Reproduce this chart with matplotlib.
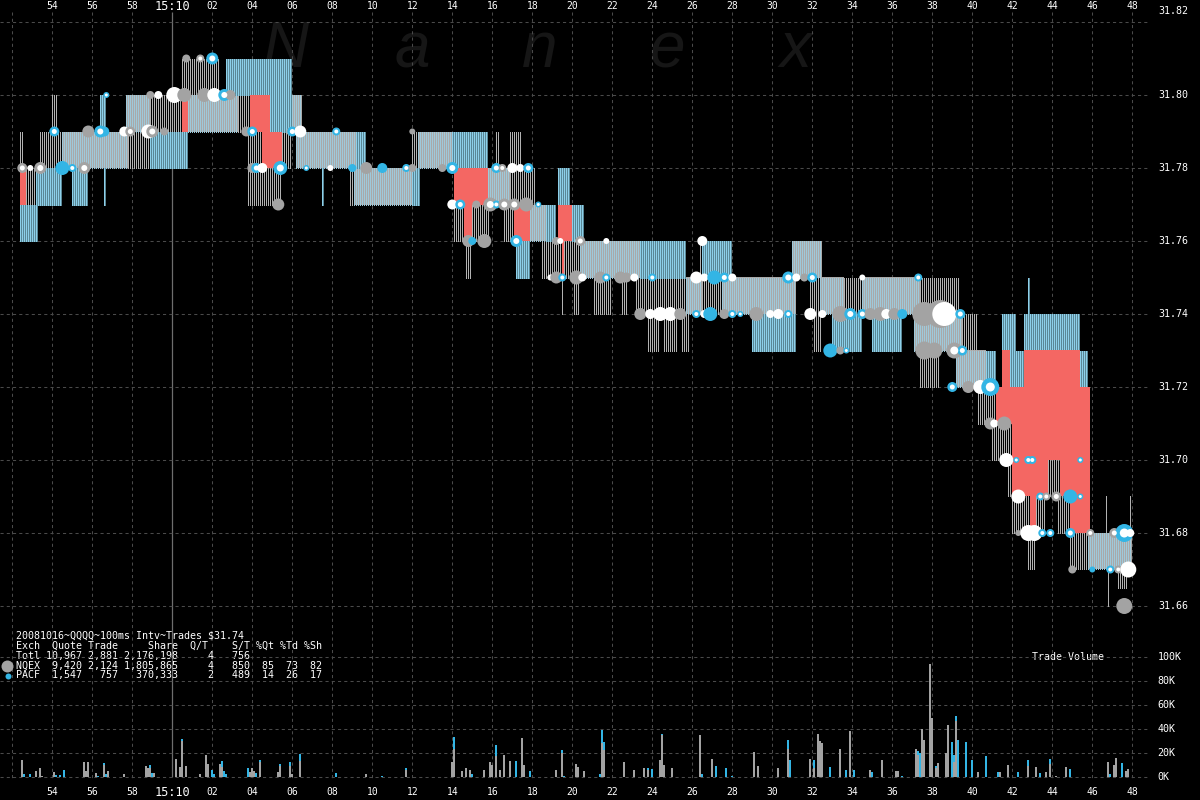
"""Nanex-style 100ms quote/trade chart for QQQQ, 2008-10-16 15:09:51 - 15:10:48."""
import matplotlib
matplotlib.use("Agg")
import matplotlib.pyplot as plt
import numpy as np

W, H, DPI = 1200, 800, 100
X0_PX, PX_PER_S = 172.3, 20.0          # 15:10:00 at x=172.3 px, 20 px per second
P_REF, P_REF_PX, PX_PER_P = 31.80, 95.0, 3650.0
VOL_ZERO_PX, PX_PER_K = 776.7, 1.194
STEP = 0.1                              # 100 ms interval

GRID = "#4a4a4a"
GRAY = "#a3a3a3"
BLUE = "#33b5e5"
LINE_GRAY = "#b2b2b2"
LINE_BLUE = "#8dd0ea"
LINE_BLUE_DIM = "#5a8796"
DENSE_BASE = "#a9a9a9"
DENSE_STRIPE = "#9fc9da"
RED = "#f46763"
MONO = "DejaVu Sans Mono"

# ---- time axis (seconds from 15:10:00) ------------------------------------
grid_times = [-8, -6, -4, -2, 0, 2, 4, 6, 8, 10, 12, 14, 16, 18, 20, 22, 24,
              26, 28, 30, 32, 34, 36, 38, 40, 42, 44, 46, 48]
label_times = grid_times[1:]
time_labels = ["54", "56", "58", "15:10", "02", "04", "06", "08", "10", "12",
               "14", "16", "18", "20", "22", "24", "26", "28", "30", "32",
               "34", "36", "38", "40", "42", "44", "46", "48"]

price_ticks = [31.66, 31.68, 31.70, 31.72, 31.74, 31.76, 31.78, 31.80, 31.82]
price_labels = ["31.66", "31.68", "31.70", "31.72", "31.74", "31.76", "31.78",
                "31.80", "31.82"]
vol_ticks = [0, 20, 40, 60, 80, 100]
vol_labels = ["0K", "20K", "40K", "60K", "80K", "100K"]

# ---- bid/ask ranges per 100ms interval: (t0, t1, low, high) -----------------
dense_blocks = [
    (-5.5, -2.2, 31.78, 31.79), (-2.3, -1.1, 31.79, 31.80), (0.8, 3.3, 31.79, 31.80),
    (5.9, 6.5, 31.79, 31.80), (6.2, 9.2, 31.78, 31.79), (9.1, 12.0, 31.77, 31.78),
    (12.3, 14.0, 31.78, 31.79), (15.8, 16.9, 31.77, 31.78), (17.9, 18.7, 31.76, 31.77),
    (20.4, 23.4, 31.75, 31.76), (25.7, 26.5, 31.74, 31.75), (27.5, 31.2, 31.74, 31.75),
    (31.0, 32.5, 31.75, 31.76), (32.4, 33.6, 31.74, 31.75), (34.5, 37.4, 31.74, 31.75),
    (37.1, 39.5, 31.73, 31.74), (39.2, 40.7, 31.72, 31.73), (45.8, 48.0, 31.67, 31.68),
]

gray_lines = [
    (-7.6, -7.4, 31.78, 31.79), (-7.3, -6.8, 31.77, 31.78), (-6.6, -5.5, 31.78, 31.79),
    (-6.0, -5.7, 31.79, 31.80), (-2.2, -1.1, 31.78, 31.79), (-1.1, 0.5, 31.79, 31.80),
    (0.5, 2.4, 31.80, 31.81), (3.3, 3.9, 31.79, 31.80), (3.8, 4.5, 31.77, 31.79),
    (4.5, 5.5, 31.77, 31.78), (5.5, 6.0, 31.78, 31.79), (8.9, 9.1, 31.77, 31.78),
    (12.0, 12.3, 31.78, 31.79), (14.1, 14.6, 31.76, 31.77), (15.0, 15.9, 31.76, 31.77),
    (14.7, 15.0, 31.75, 31.76), (16.2, 16.4, 31.78, 31.79), (16.9, 17.5, 31.78, 31.79),
    (16.9, 18.2, 31.77, 31.78), (16.6, 17.1, 31.76, 31.77), (18.5, 19.5, 31.75, 31.76),
    (19.5, 19.6, 31.74, 31.75), (19.6, 20.4, 31.75, 31.76), (20.0, 20.4, 31.76, 31.77),
    (20.1, 20.4, 31.74, 31.75), (21.1, 22.0, 31.74, 31.75), (22.5, 22.8, 31.74, 31.75),
    (23.2, 25.7, 31.74, 31.75), (23.8, 24.4, 31.73, 31.74), (24.6, 25.3, 31.73, 31.74),
    (25.5, 25.9, 31.73, 31.74), (26.4, 26.5, 31.75, 31.76), (26.5, 27.5, 31.74, 31.75),
    (31.9, 32.5, 31.74, 31.75), (32.1, 32.5, 31.73, 31.74), (33.6, 34.5, 31.74, 31.75),
    (37.4, 39.4, 31.74, 31.75), (37.4, 38.4, 31.72, 31.73), (39.5, 40.3, 31.73, 31.74),
    (40.3, 41.2, 31.71, 31.72), (40.3, 40.4, 31.71, 31.73), (41.0, 42.0, 31.70, 31.71),
    (41.8, 42.0, 31.69, 31.70), (43.8, 44.4, 31.69, 31.70), (42.0, 42.9, 31.68, 31.69),
    (43.2, 43.7, 31.68, 31.69), (44.3, 44.9, 31.68, 31.69), (42.8, 43.2, 31.67, 31.68),
    (44.9, 45.8, 31.67, 31.68), (46.7, 46.8, 31.68, 31.69), (47.9, 48.0, 31.67, 31.69),
    (46.8, 46.9, 31.66, 31.67), (47.3, 47.8, 31.665, 31.67),
]

blue_lines = [
    (-7.6, -6.7, 31.76, 31.77), (-6.8, -5.5, 31.77, 31.78), (-5.0, -4.2, 31.77, 31.78),
    (-3.6, -3.3, 31.79, 31.80), (-3.4, -3.3, 31.77, 31.78), (-1.1, 0.8, 31.78, 31.79),
    (2.7, 6.0, 31.80, 31.81), (4.9, 6.0, 31.79, 31.80), (7.5, 7.6, 31.77, 31.78),
    (9.2, 9.7, 31.78, 31.79), (12.0, 12.4, 31.77, 31.78), (14.0, 15.8, 31.78, 31.79),
    (17.2, 17.9, 31.75, 31.76), (18.7, 19.2, 31.76, 31.77), (19.3, 19.9, 31.77, 31.78),
    (20.0, 20.6, 31.76, 31.77), (23.4, 25.7, 31.75, 31.76), (26.5, 28.0, 31.75, 31.76),
    (29.0, 31.2, 31.73, 31.74), (33.0, 34.5, 31.73, 31.74), (35.0, 36.5, 31.73, 31.74),
    (40.7, 41.2, 31.72, 31.73), (41.5, 42.2, 31.73, 31.74), (42.6, 45.4, 31.73, 31.74),
    (42.8, 42.9, 31.74, 31.75), (41.9, 42.6, 31.72, 31.73), (45.4, 45.8, 31.72, 31.73),
]

# crossed / locked market intervals
red_blocks = [
    (-7.6, -7.3, 31.77, 31.78), (0.5, 0.8, 31.79, 31.80), (3.9, 4.9, 31.79, 31.80),
    (4.5, 5.5, 31.78, 31.79), (14.1, 15.8, 31.77, 31.78), (14.6, 15.0, 31.76, 31.77),
    (17.1, 17.9, 31.76, 31.77), (19.3, 20.0, 31.76, 31.77), (19.5, 19.6, 31.75, 31.76),
    (41.5, 41.9, 31.72, 31.73), (42.6, 45.4, 31.72, 31.73), (41.2, 45.9, 31.71, 31.72),
    (42.0, 45.9, 31.70, 31.71), (42.0, 43.8, 31.69, 31.70), (44.4, 45.9, 31.69, 31.70),
    (42.9, 43.2, 31.68, 31.69), (44.9, 45.9, 31.68, 31.69),
]

# ---- trades: (t, price, kind, radius px); g=NQEX, b=PACF, w=white, *w=white core
trades = [
    (-7.5, 31.78, "gw", 5), (-7.1, 31.78, "w", 3), (-6.6, 31.78, "gw", 6), (-5.5, 31.78, "b", 7),
    (-5.0, 31.78, "bw", 4), (-4.4, 31.78, "gw", 6), (-5.9, 31.79, "bw", 5), (-4.2, 31.79, "g", 6),
    (-3.6, 31.79, "bw", 6), (-3.4, 31.79, "b", 5), (-2.4, 31.79, "w", 5), (-2.1, 31.79, "gw", 5),
    (-1.2, 31.79, "w", 7), (-1.0, 31.79, "gw", 6), (-0.4, 31.79, "g", 4), (-3.3, 31.80, "bw", 3),
    (-1.1, 31.80, "g", 4), (-0.7, 31.80, "w", 4), (0.1, 31.80, "w", 8), (0.6, 31.80, "g", 7),
    (1.6, 31.80, "g", 7), (2.1, 31.80, "w", 7), (2.6, 31.80, "bw", 6), (2.9, 31.80, "g", 5),
    (0.7, 31.81, "g", 4), (1.4, 31.81, "gw", 4), (2.0, 31.81, "bw", 6), (3.7, 31.79, "g", 5),
    (4.0, 31.79, "bw", 5), (4.0, 31.78, "g", 5), (4.2, 31.78, "bw", 5), (4.5, 31.78, "w", 5),
    (5.4, 31.78, "bw", 7), (5.3, 31.77, "g", 6), (5.9, 31.79, "g", 4), (6.0, 31.79, "bw", 5),
    (6.4, 31.79, "w", 6), (8.2, 31.79, "bw", 4), (6.7, 31.78, "bw", 3), (7.9, 31.78, "w", 3),
    (9.0, 31.78, "b", 4), (9.7, 31.78, "g", 6), (10.5, 31.78, "b", 5), (11.7, 31.78, "bw", 4),
    (12.0, 31.78, "g", 4), (12.0, 31.79, "g", 3), (13.5, 31.78, "g", 4), (14.0, 31.78, "bw", 6),
    (14.0, 31.77, "w", 5), (14.4, 31.77, "bw", 5), (15.2, 31.77, "g", 4), (15.9, 31.77, "gw", 7),
    (16.2, 31.77, "bw", 4), (16.6, 31.77, "gw", 6), (17.1, 31.77, "gw", 6), (17.7, 31.77, "g", 7),
    (18.3, 31.77, "bw", 3), (16.2, 31.78, "bw", 5), (16.5, 31.78, "gw", 4), (17.0, 31.78, "w", 5),
    (17.4, 31.78, "w", 4), (17.8, 31.78, "bw", 5), (14.8, 31.76, "g", 6), (15.0, 31.76, "b", 4),
    (15.6, 31.76, "g", 7), (17.2, 31.76, "bw", 6), (19.2, 31.76, "g", 4), (19.4, 31.76, "w", 3),
    (20.3, 31.76, "w", 3), (18.9, 31.75, "w", 3), (19.2, 31.75, "g", 6), (19.5, 31.75, "bw", 4),
    (20.2, 31.75, "g", 7), (20.5, 31.75, "w", 4), (20.4, 31.76, "gw", 5), (21.7, 31.76, "w", 3),
    (26.5, 31.76, "w", 5), (21.4, 31.75, "g", 6), (21.7, 31.75, "bw", 4), (22.4, 31.75, "g", 6),
    (22.7, 31.75, "g", 5), (23.1, 31.75, "w", 4), (24.0, 31.75, "bw", 4), (26.2, 31.75, "w", 6),
    (26.6, 31.75, "w", 4), (27.1, 31.75, "b", 7), (27.6, 31.75, "bw", 5), (28.0, 31.75, "w", 4),
    (30.8, 31.75, "bw", 6), (31.2, 31.75, "w", 4), (31.6, 31.75, "g", 4), (32.0, 31.75, "bw", 5),
    (23.4, 31.74, "g", 6), (23.9, 31.74, "w", 5), (24.4, 31.74, "w", 7), (24.9, 31.74, "w", 7),
    (25.4, 31.74, "g", 6), (26.2, 31.74, "bw", 4), (26.6, 31.74, "w", 4), (26.9, 31.74, "b", 7),
    (27.6, 31.74, "g", 5), (28.0, 31.74, "bw", 4), (28.4, 31.74, "bw", 3), (29.2, 31.74, "g", 7),
    (29.9, 31.74, "w", 4), (30.3, 31.74, "w", 5), (30.8, 31.74, "bw", 4), (31.9, 31.74, "w", 6),
    (32.5, 31.74, "w", 4), (33.4, 31.74, "g", 8), (33.9, 31.74, "bw", 6), (34.5, 31.74, "bw", 5),
    (34.9, 31.74, "g", 6), (35.4, 31.74, "g", 7), (35.7, 31.74, "w", 5), (36.1, 31.74, "g", 6),
    (36.5, 31.74, "b", 5), (37.6, 31.74, "g", 12), (38.4, 31.74, "g", 14), (38.6, 31.74, "w", 12),
    (39.4, 31.74, "bw", 5), (32.9, 31.73, "b", 7), (33.4, 31.73, "g", 4), (33.7, 31.73, "bw", 3),
    (34.5, 31.75, "w", 3), (37.3, 31.75, "bw", 4), (37.6, 31.73, "g", 9), (38.1, 31.73, "g", 8),
    (39.1, 31.73, "gw", 8), (39.5, 31.73, "bw", 5), (39.0, 31.72, "bw", 5), (39.8, 31.72, "g", 6),
    (40.4, 31.72, "w", 7), (40.9, 31.72, "bw", 9), (40.9, 31.71, "g", 6), (41.1, 31.71, "w", 4),
    (41.6, 31.71, "g", 7), (41.7, 31.70, "w", 7), (42.2, 31.70, "bw", 3), (42.8, 31.70, "bw", 4),
    (43.0, 31.70, "bw", 4), (45.4, 31.70, "bw", 3), (42.3, 31.69, "w", 7), (43.4, 31.69, "bw", 4),
    (43.7, 31.69, "gw", 4), (44.2, 31.69, "gw", 5), (44.9, 31.69, "b", 7), (45.4, 31.69, "bw", 3),
    (42.3, 31.68, "g", 3), (42.8, 31.68, "w", 8), (43.1, 31.68, "w", 8), (43.5, 31.68, "bw", 4),
    (43.9, 31.68, "bw", 4), (44.9, 31.68, "bw", 5), (45.9, 31.68, "gw", 4), (47.1, 31.68, "gw", 5),
    (47.6, 31.68, "bw", 9), (47.9, 31.68, "w", 4), (45.0, 31.67, "g", 4), (46.0, 31.67, "b", 3),
    (46.9, 31.67, "bw", 4), (47.3, 31.67, "gw", 4), (47.8, 31.67, "w", 8), (47.6, 31.66, "g", 8),
]

# ---- trade volume per interval: (t, NQEX K shares, PACF K shares) ------------
volume = [
    (-7.5, 13.6, 0), (-7.4, 0, 2), (-7.1, 0, 2), (-6.8, 5, 0), (-6.6, 7.5, 0), (-6.5, 1, 0),
    (-5.9, 3.6, 0), (-5.8, 0, 1.7), (-5.6, 0, 1.5), (-5.4, 0, 6), (-4.4, 12, 0), (-4.3, 5, 0),
    (-4.2, 12, 0), (-3.8, 3.3, 0), (-3.7, 0, 1), (-3.4, 9.4, 2.2), (-3.3, 0, 2), (-3.2, 4.4, 0),
    (-2.4, 2, 0), (-1.3, 8.6, 0), (-1.2, 7, 0), (-1.1, 7, 2.8), (-1.0, 0, 3.3), (-0.9, 2.8, 0),
    (0.2, 15, 0), (0.4, 7.8, 0), (0.5, 29.7, 2.2), (0.7, 8.6, 0), (1.4, 2, 0), (1.7, 17.8, 0),
    (1.8, 11, 0), (2.0, 0, 6), (2.1, 0, 2), (2.4, 11, 0), (2.5, 8, 5), (2.6, 0, 4.4),
    (2.7, 0, 2.5), (3.8, 0, 7), (3.9, 4, 0), (4.0, 7, 0), (4.1, 4.4, 0), (4.2, 0, 2.8),
    (4.4, 12.6, 1), (5.3, 3.9, 0), (5.4, 9, 2), (5.9, 9.2, 2.8), (6.0, 2, 0), (6.4, 13.3, 5.3),
    (8.2, 0, 2.8), (9.7, 2, 0), (10.5, 0, 1), (11.7, 5.5, 1.4), (14.0, 12, 0), (14.1, 23.3, 10.3),
    (14.5, 4.4, 0), (14.7, 7, 0), (14.9, 6, 0), (15.0, 0, 2), (15.6, 6, 0), (15.9, 12, 0),
    (16.0, 10, 0), (16.2, 17, 9.7), (16.4, 5.3, 0), (16.6, 17.8, 0), (16.9, 12.8, 0),
    (17.2, 0, 12.8), (17.5, 32, 0), (17.6, 9.4, 0), (17.9, 0, 4.4), (19.2, 6, 0), (19.5, 20, 2),
    (19.6, 0, 1), (20.2, 11, 0), (20.3, 8, 0), (20.6, 4.4, 0), (21.4, 0, 2), (21.5, 28, 11.4),
    (21.6, 22, 7), (22.6, 12, 0), (23.1, 6, 0), (23.6, 7, 0), (23.8, 5.5, 1.4), (24.0, 0, 6.7),
    (24.4, 14.4, 0), (24.5, 35, 1), (24.6, 9.4, 0), (25.0, 7.5, 0), (26.4, 35, 0), (26.5, 0, 2),
    (27.0, 15, 0), (27.2, 0, 9), (27.7, 0, 7), (28.0, 0, 1), (29.1, 20.5, 0.5), (29.3, 8.6, 0),
    (30.3, 7, 0), (30.8, 23, 8), (30.9, 0, 14.4), (31.9, 15, 0), (32.1, 7, 6.6), (32.3, 36, 0),
    (32.4, 30, 0), (32.5, 28, 0), (32.9, 0, 7.8), (33.4, 22.8, 0), (33.7, 0, 6), (33.9, 38.6, 0),
    (34.1, 0, 6), (34.9, 6, 0), (35.0, 0, 4), (35.5, 14.4, 0), (36.2, 4.7, 0), (36.3, 5, 0),
    (36.5, 0, 1), (37.2, 22.8, 0), (37.3, 18, 3.4), (37.4, 0, 20), (37.5, 40, 0), (37.6, 31, 0),
    (37.9, 94, 0), (38.0, 49, 0), (38.2, 7, 2), (38.3, 11.7, 0), (38.7, 20, 0), (38.8, 43.6, 0),
    (39.0, 0, 29), (39.1, 12, 5.8), (39.2, 47, 3.5), (39.3, 0, 30.5), (39.7, 0, 29),
    (40.0, 0, 14.4), (40.3, 4, 0), (40.7, 0, 17), (41.3, 0, 4), (41.4, 4, 0), (41.8, 9.7, 0),
    (42.3, 0, 4), (42.8, 8.9, 5), (43.2, 8.3, 0), (43.4, 0, 3.3), (43.7, 4, 0), (43.9, 11, 4),
    (44.2, 1, 0), (44.7, 8, 0), (44.9, 0, 6.7), (46.8, 12.5, 0), (46.9, 0, 2.5), (47.1, 9.7, 0),
    (47.2, 15.6, 0), (47.5, 0, 11.7), (47.7, 4.7, 0), (47.8, 6.4, 0),
]

legend_lines = [
    "20081016~QQQQ~100ms Intv~Trades $31.74",
    "Exch  Quote Trade     Share  Q/T    S/T %Qt %Td %Sh",
    "Totl 10,967 2,881 2,176,198     4   756",
    "NQEX  9,420 2,124 1,805,865     4   850  85  73  82",
    "PACF  1,547   757   370,333     2   489  14  26  17",
]


def sec_to_px(s):
    return X0_PX + np.asarray(s) * PX_PER_S


def px_to_sec(x):
    return (x - X0_PX) / PX_PER_S


def px_to_price(y):
    return P_REF + (P_REF_PX - y) / PX_PER_P


def box(x0, y0, x1, y1):
    """pixel box (top-left origin) -> figure fraction rect"""
    return [x0 / W, 1 - y1 / H, (x1 - x0) / W, (y1 - y0) / H]


def stripes(ax, blocks, color, offset=0.0, z=2):
    # one 1px line per 100ms interval
    for t0, t1, lo, hi in blocks:
        ts = np.arange(t0, t1 - 1e-9, STEP) + offset
        ax.vlines(ts, lo, hi, colors=color, lw=0.45, antialiased=False, zorder=z)


fig = plt.figure(figsize=(W / DPI, H / DPI), dpi=DPI, facecolor="black")

# background layer in pixel coordinates: time grid, labels, legend, watermark
bg = fig.add_axes(box(0, 0, W, H))
bg.set_xlim(0, W)
bg.set_ylim(H, 0)
bg.axis("off")

for letter, x in zip("Nanex", [285, 412, 540, 668, 796]):
    bg.text(x, 50, letter, fontsize=46, style="italic", color="#161616",
            family="Liberation Sans", ha="center", va="center", zorder=0)

grid_x = sec_to_px([t for t in grid_times if t != 0])
bg.vlines(grid_x, 12, 780, colors=GRID, lw=0.75, linestyles=(0, (3, 3)), zorder=1)
bg.vlines(sec_to_px(0), 12, 777, colors="#6e6e6e", lw=0.9, zorder=1)

for t, lab in zip(label_times, time_labels):
    big = lab == "15:10"
    for y in (6, 792):
        bg.text(sec_to_px(t), y, lab, color="white", family=MONO,
                fontsize=8.6 if big else 7.0, ha="center", va="center")

for i, line in enumerate(legend_lines):
    bg.text(16, 636 + i * 9.8, line, color="white", family=MONO, fontsize=7.2,
            ha="left", va="center")
bg.scatter([7], [666], s=(1.44 * 6) ** 2, c=GRAY, lw=0)
bg.scatter([8], [676], s=(1.44 * 3) ** 2, c=BLUE, lw=0)
bg.text(1068, 657, "Trade Volume", color="white", family=MONO, fontsize=7.2,
        ha="center", va="center")

# ---- main quote / trade panel ----------------------------------------------
ax = fig.add_axes(box(0, 0, 1150, 640))
ax.patch.set_alpha(0)
ax.set_xlim(px_to_sec(0), px_to_sec(1150))
ax.set_ylim(px_to_price(640), px_to_price(0))
for sp in ax.spines.values():
    sp.set_visible(False)
ax.set_xticks([])
ax.set_yticks(price_ticks)
ax.set_yticklabels([])
ax.tick_params(axis="y", length=0)
ax.yaxis.grid(True, color=GRID, lw=0.75, linestyle=(0, (3, 3)))
ax.set_axisbelow(True)
for p, lab in zip(price_ticks, price_labels):
    dy = 8 if p == price_ticks[-1] else 0
    ax.annotate(lab, (1, p), xycoords=("axes fraction", "data"), xytext=(6, dy),
                textcoords="offset points", ha="left", va="center", color="white",
                family=MONO, fontsize=7.2, annotation_clip=False)

# dense quoting: solid gray body with light-blue 1px stripes on top
for t0, t1, lo, hi in dense_blocks:
    ax.bar(t0, hi - lo, width=t1 - t0, bottom=lo, align="edge", color=DENSE_BASE,
           lw=0, zorder=1.9)
stripes(ax, dense_blocks, DENSE_STRIPE, z=2.1)
stripes(ax, gray_lines, LINE_GRAY)
stripes(ax, blue_lines, LINE_BLUE_DIM, offset=STEP / 2)
stripes(ax, blue_lines, LINE_BLUE, z=2.1)
for t0, t1, lo, hi in red_blocks:
    ax.bar(t0, hi - lo, width=t1 - t0, bottom=lo, align="edge", color=RED, lw=0, zorder=3)

outer = {"g": GRAY, "b": BLUE, "w": "white", "gw": GRAY, "bw": BLUE}
tr_t = np.array([r[0] for r in trades])
tr_p = np.array([r[1] for r in trades])
tr_k = [r[2] for r in trades]
tr_r = np.array([r[3] for r in trades], dtype=float)
ax.scatter(tr_t, tr_p, s=(1.44 * tr_r) ** 2, c=[outer[k] for k in tr_k], lw=0, zorder=4)
core = np.array([k in ("gw", "bw") for k in tr_k])
ax.scatter(tr_t[core], tr_p[core], s=(1.44 * 0.5 * tr_r[core]) ** 2, c="white", lw=0, zorder=5)

# ---- trade volume panel ------------------------------------------------------
axv = fig.add_axes(box(0, 640, 1150, 782))
axv.patch.set_alpha(0)
axv.set_xlim(px_to_sec(0), px_to_sec(1150))
axv.set_ylim((VOL_ZERO_PX - 782) / PX_PER_K, (VOL_ZERO_PX - 640) / PX_PER_K)
for sp in axv.spines.values():
    sp.set_visible(False)
axv.set_xticks([])
axv.set_yticks(vol_ticks)
axv.set_yticklabels([])
axv.tick_params(axis="y", length=0)
axv.yaxis.grid(True, color=GRID, lw=0.75, linestyle=(0, (3, 3)))
axv.set_axisbelow(True)
for v, lab in zip(vol_ticks, vol_labels):
    axv.annotate(lab, (1, v), xycoords=("axes fraction", "data"), xytext=(5.5, 0),
                 textcoords="offset points", ha="left", va="center", color="white",
                 family=MONO, fontsize=7.2, annotation_clip=False)

v_t = np.array([r[0] for r in volume])
v_nq = np.array([r[1] for r in volume])
v_pa = np.array([r[2] for r in volume])
axv.bar(v_t, v_nq, width=0.1, color=GRAY, lw=0, zorder=2)
axv.bar(v_t, v_pa, width=0.1, bottom=v_nq, color=BLUE, lw=0, zorder=2)

fig.savefig("out.png", dpi=DPI, facecolor="black")
